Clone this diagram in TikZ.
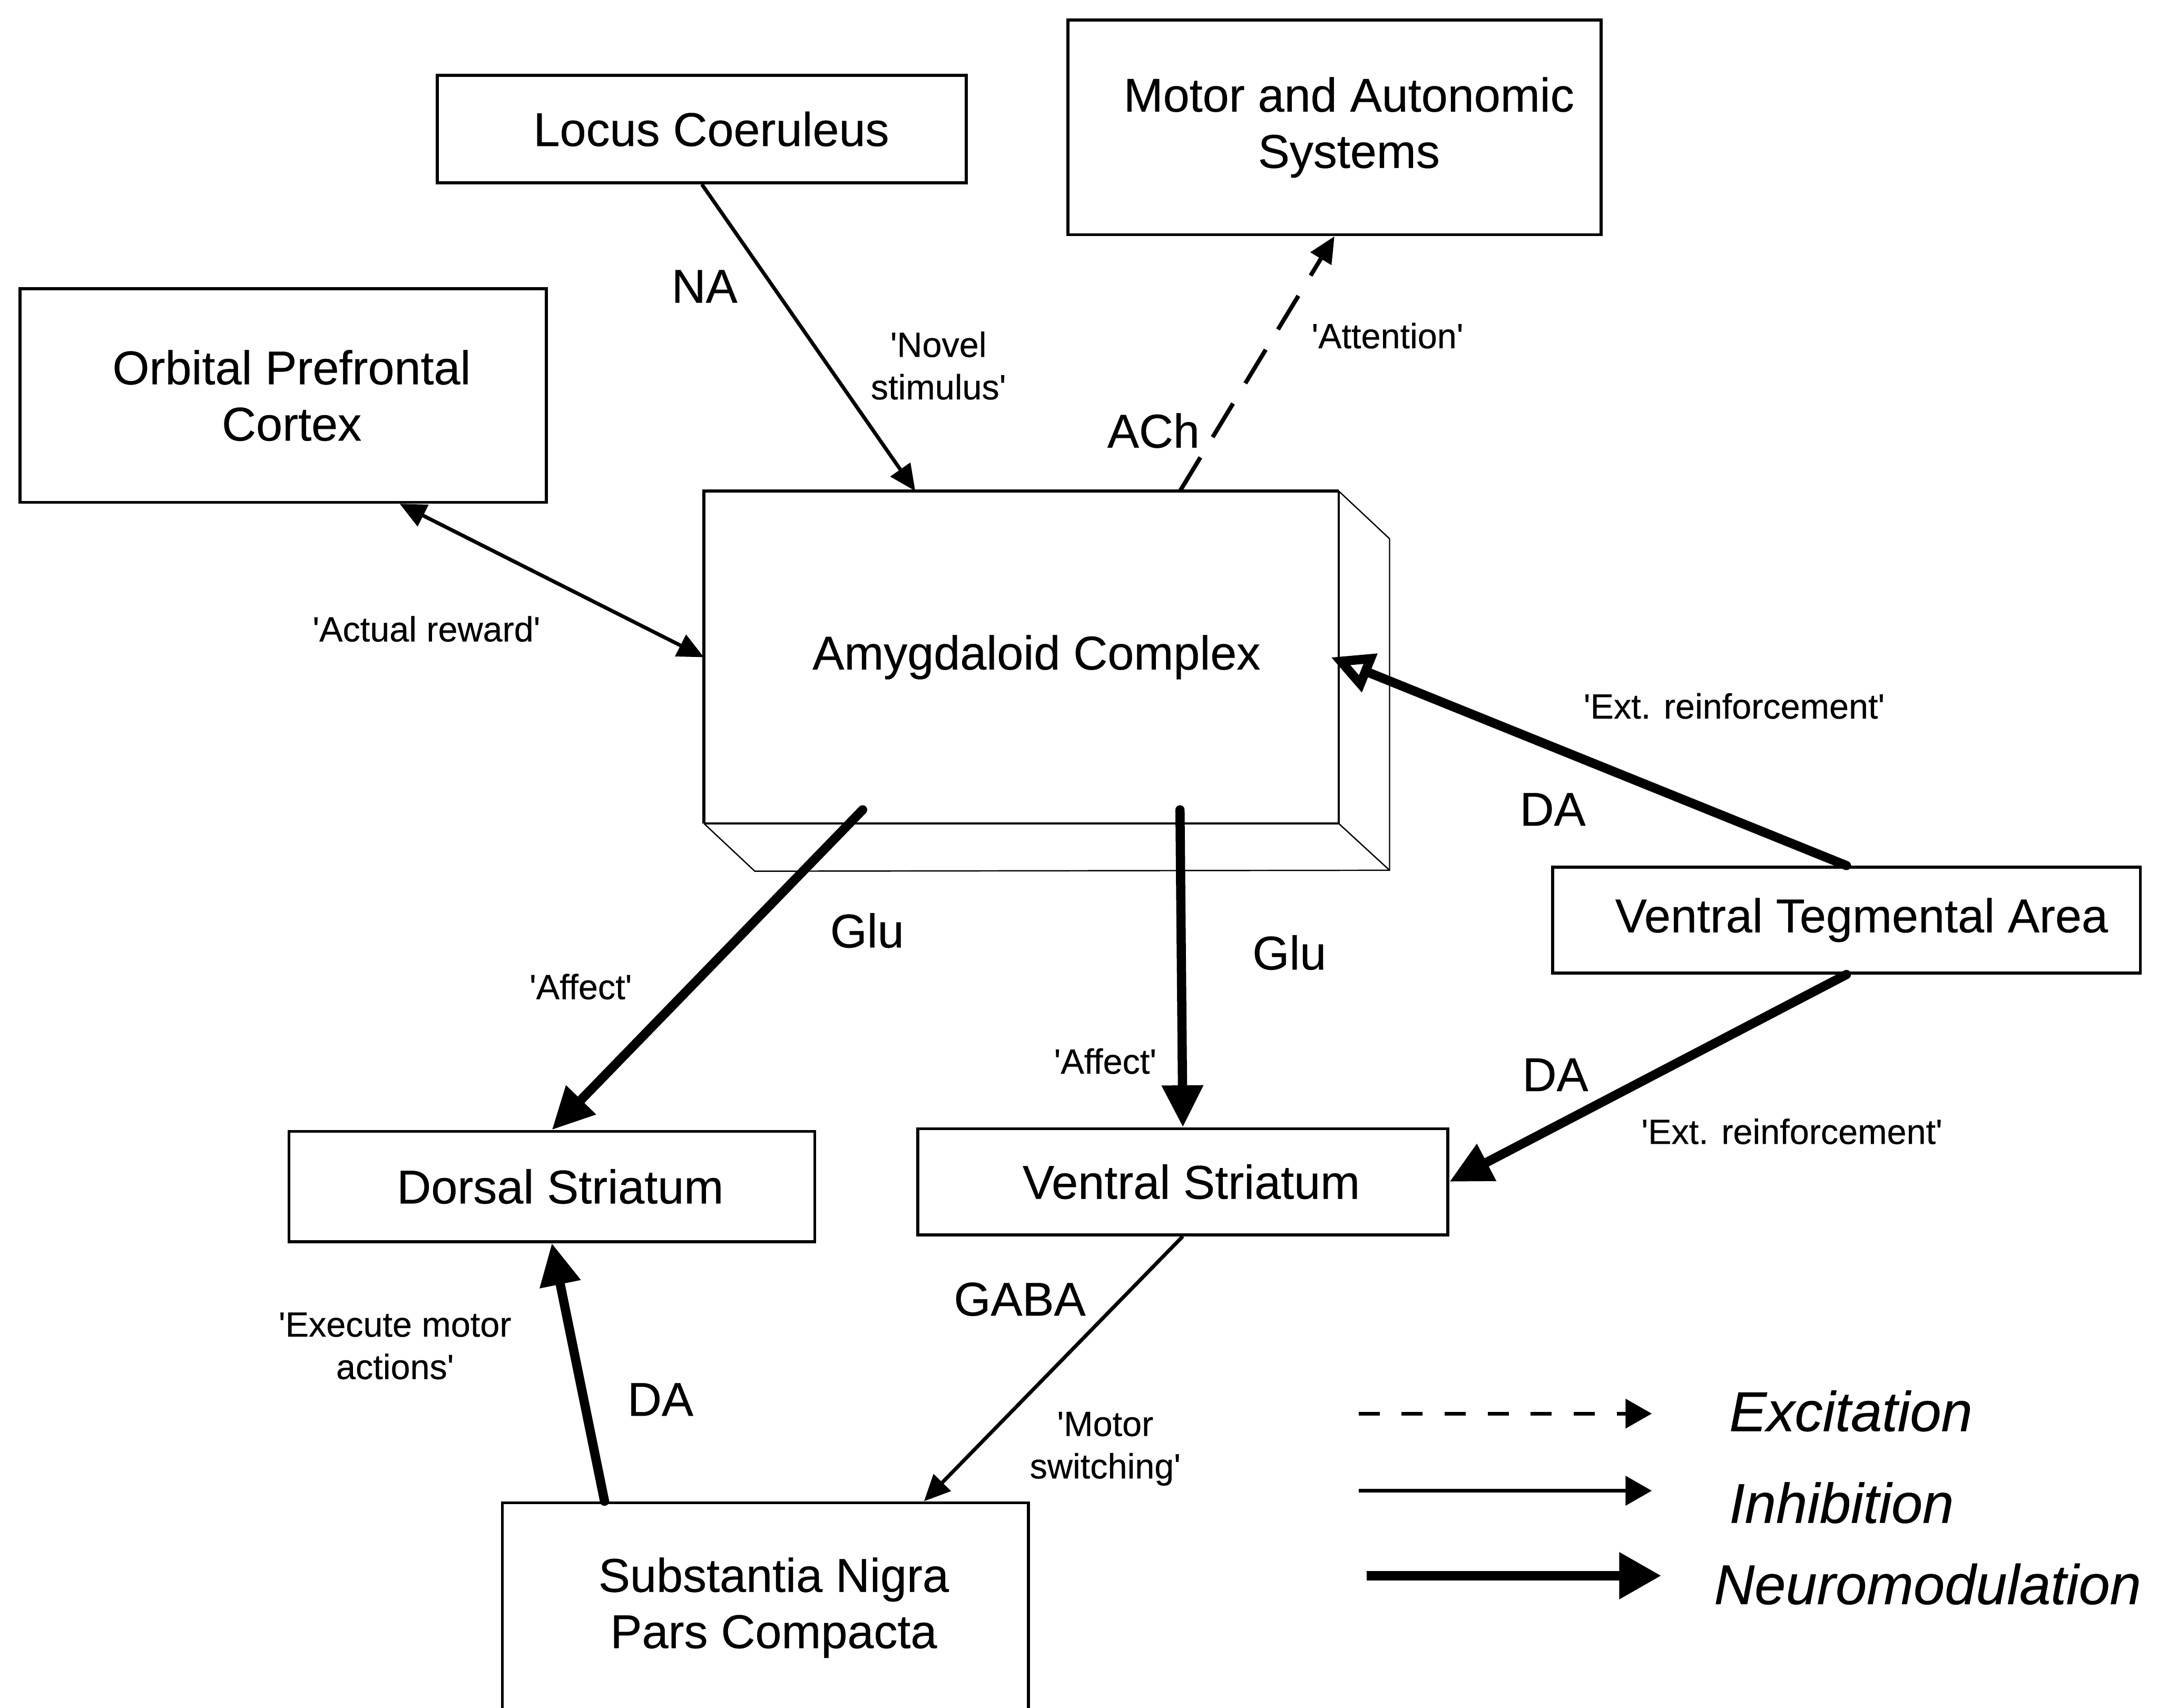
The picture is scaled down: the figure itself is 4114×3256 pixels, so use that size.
\documentclass[tikz,border=0pt]{standalone}
\usepackage{fontspec}
\setmainfont{Liberation Sans}[FakeBold=0.35]
\usetikzlibrary{arrows.meta,calc}

% text sizes
\newcommand{\boxfont}{\fontsize{25.7}{30.5}\selectfont}
\newcommand{\nmfont}{\fontsize{25.7}{30.5}\selectfont}
\newcommand{\roleft}{\fontsize{19}{23}\selectfont}
\newcommand{\legfont}{\fontsize{30.4}{36}\selectfont\itshape}
\newcommand{\apo}{\textquotesingle}
% nudges a line of box text to the right
\newcommand{\nudge}[1]{\hspace*{#1}}

\begin{document}
\begin{tikzpicture}[x=0.01cm,y=-0.01cm,
  region/.style={draw, line width=1.6pt, inner sep=0pt, align=center, font=\boxfont},
  nt/.style={font=\nmfont, inner sep=0pt},
  role/.style={font=\roleft, align=center, inner sep=0pt},
  legtext/.style={font=\legfont, inner sep=0pt, anchor=west},
  thinhead/.tip={Triangle[length=0.5cm,width=0.45cm]},
  thickhead/.tip={Triangle[length=0.8cm,width=0.75cm]},
  inhib/.style={line width=2pt, -thinhead},
  excit/.style={line width=2.3pt, dash pattern=on 0.75cm off 0.45cm, -thinhead},
  modul/.style={line width=5pt, line cap=round, -thickhead},
  depth/.style={line width=0.7pt}
]
\useasboundingbox (0,0) rectangle (4114,3256);

% ---- regions ----
\node[region, minimum width=10.08cm, minimum height=2.05cm] (lc) at (1338,246) {\nudge{0.36cm}Locus Coeruleus};
\node[region, minimum width=10.16cm, minimum height=4.09cm] (mas) at (2544,243) {\nudge{0.55cm}Motor and Autonomic\\\nudge{0.55cm}Systems};
\node[region, minimum width=10.03cm, minimum height=4.07cm] (opfc) at (540,754) {\nudge{0.32cm}Orbital Prefrontal\\\nudge{0.32cm}Cortex};
\node[inner sep=0pt, minimum width=12.08cm, minimum height=6.32cm, font=\boxfont] (amy) at (1947,1253) {\nudge{0.58cm}Amygdaloid Complex};
\node[region, minimum width=11.2cm, minimum height=2.02cm] (vta) at (3520,1754) {\nudge{0.58cm}Ventral Tegmental Area};
\node[region, minimum width=10.02cm, minimum height=2.1cm] (ds) at (1052,2262) {\nudge{0.32cm}Dorsal Striatum};
\node[region, minimum width=10.1cm, minimum height=2.02cm] (vs) at (2255,2253) {\nudge{0.32cm}Ventral Striatum};
\node[region, minimum width=10.02cm, minimum height=4.0cm] (sn) at (1459,3065) {\nudge{0.32cm}Substantia Nigra\\\nudge{0.32cm}Pars Compacta};

% ---- amygdaloid block drawn as a box with depth ----
\draw[line width=1.6pt] (amy.south west) -- (amy.north west) -- (amy.north east);
\draw[line width=1pt] (amy.north east) -- (amy.south east) -- (amy.south west);
\draw[depth] (amy.north east) -- ++(97,91) coordinate (amyBR1) -- ++(0,632) coordinate (amyBR2)
  -- ($(amy.south west)+(97,91)$) -- (amy.south west);
\draw[depth] (amy.south east) -- (amyBR2);

% ---- connectors ----
\draw[inhib] (lc.south) -- ($(amy.north west)!0.333!(amy.north east)$);
\draw[excit] ($(amy.north west)!0.75!(amy.north east)$) -- (mas.south);
\draw[inhib, thinhead-thinhead] ($(opfc.south west)!0.72!(opfc.south east)$) -- (amy.west);
\draw[modul, -{Triangle[open,length=0.8cm,width=0.75cm]}] (vta.north) -- ($(amy.east)+(-15,0)$);
\draw[modul] (vta.south) -- (vs.east);
\draw[modul] ($(amy.south west)!0.25!(amy.south east)+(0,-26)$) -- (ds.north);
\draw[modul] ($(amy.south west)!0.75!(amy.south east)+(0,-26)$) -- (vs.north);
\draw[inhib] (vs.south) -- ($(sn.north west)!0.8!(sn.north east)$);
\draw[modul] ($(sn.north west)!0.196!(sn.north east)$) -- (ds.south);

% ---- transmitter and role labels ----
\node[nt] (na) at (1343,546) {NA};
\node[role] (novel) at (1789,697) {\apo Novel\\stimulus\apo};
\node[nt] (ach) at (2199,821) {ACh};
\node[role] (attn) at (2645,640) {\apo Attention\apo};
\node[role] (actual) at (813,1199) {\apo Actual reward\apo};
\node[role] (ext1) at (3306,1346) {\apo Ext. reinforcement\apo};
\node[nt] (da1) at (2960,1543) {DA};
\node[nt] (glu1) at (1653,1774) {Glu};
\node[role] (aff1) at (1107,1881) {\apo Affect\apo};
\node[nt] (glu2) at (2458,1816) {Glu};
\node[role] (aff2) at (2107,2023) {\apo Affect\apo};
\node[nt] (da2) at (2965,2049) {DA};
\node[role] (ext2) at (3416,2157) {\apo Ext. reinforcement\apo};
\node[nt] (gaba) at (1944,2477) {GABA};
\node[role] (motsw) at (2107,2762) {\apo Motor\\switching\apo};
\node[role] (exec) at (753,2566) {\apo Execute motor\\actions\apo};
\node[nt] (da3) at (1259,2668) {DA};

% ---- legend ----
\coordinate (exA) at (2590,2695);
\coordinate (exB) at (3149,2695);
\coordinate (inA) at (2590,2842);
\coordinate (inB) at (3149,2842);
\coordinate (nmA) at (2605,3004);
\coordinate (nmB) at (3167,3004);
\draw[line width=2pt, dash pattern=on 0.4cm off 0.42cm, -{Triangle[length=0.5cm,width=0.55cm]}] (exA) -- (exB);
\draw[line width=2.2pt, -{Triangle[length=0.5cm,width=0.55cm]}] (inA) -- (inB);
\draw[line width=5pt, -{Triangle[length=0.8cm,width=0.85cm]}] (nmA) -- (nmB);
\node[legtext] (lex) at (3296,2690) {Excitation};
\node[legtext] (lin) at (3296,2865) {Inhibition};
\node[legtext] (lnm) at (3267,3020) {Neuromodulation};
\end{tikzpicture}
\end{document}
